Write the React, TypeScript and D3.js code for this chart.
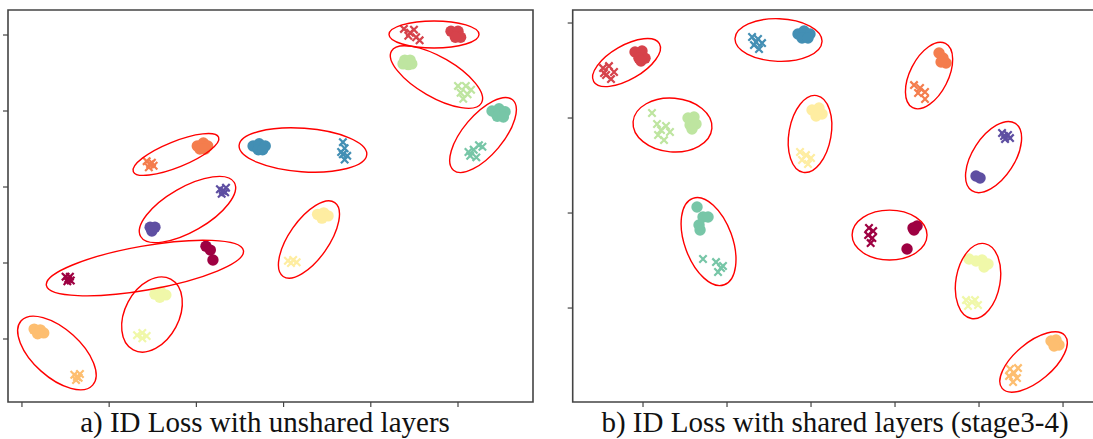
import React from 'react';
import * as d3 from 'd3';

type Pt = [number, number];
type Ell = { c: Pt; tip: Pt; ratio: number };

// identities 0..9 coloured with the Spectral map
const colorOf = (i: number) => d3.interpolateSpectral(i / 9);

// ---- panel a) unshared layers ----
const leftXTicks = [0, 10, 20, 30, 40, 50];
const leftYTicks = [0, 10, 20, 30, 40];

const leftCircles: Pt[][] = [
  [[21.1, 12.2], [21.6, 11.7], [21.9, 10.4]],
  [[49.2, 40.5], [50.0, 40.5], [50.3, 39.7], [49.7, 39.7]],
  [[20.1, 25.4], [20.8, 25.8], [21.3, 25.4], [20.4, 25.0], [21.0, 25.0]],
  [[1.4, 1.3], [2.1, 1.2], [2.5, 0.8], [1.8, 0.7]],
  [[33.9, 16.4], [34.6, 16.6], [35.1, 16.2], [34.4, 15.9]],
  [[15.25, 5.9], [15.9, 6.2], [16.5, 5.8], [15.8, 5.5]],
  [[43.9, 36.7], [44.5, 36.7], [44.3, 36.1], [43.7, 36.2], [44.7, 36.2]],
  [[53.9, 30.0], [54.7, 30.3], [55.4, 29.9], [54.5, 29.3], [55.2, 29.2]],
  [[26.5, 25.4], [27.2, 25.7], [27.9, 25.4], [27.1, 24.9], [27.6, 24.9]],
  [[14.7, 14.7], [15.25, 14.7], [14.9, 14.2]],
];

const leftCrosses: Pt[][] = [
  [[5.0, 8.2], [5.6, 7.7], [5.2, 7.6], [5.5, 8.2], [5.3, 7.9]],
  [[43.8, 40.8], [44.5, 40.3], [45.2, 39.7], [44.3, 39.9], [45.6, 39.3], [44.95, 40.7]],
  [[14.3, 23.4], [14.9, 23.2], [14.55, 22.6], [15.1, 22.8], [14.7, 23.0]],
  [[6.0, -4.7], [6.5, -5.1], [6.2, -5.4], [6.65, -4.6], [6.3, -5.0]],
  [[30.5, 10.3], [31.1, 10.4], [31.5, 10.1], [30.85, 10.0]],
  [[13.2, 0.5], [13.8, 0.8], [14.3, 0.4], [13.8, 0.1]],
  [[50.0, 33.3], [50.9, 33.3], [50.3, 32.4], [51.1, 32.2], [50.6, 31.6], [51.5, 32.8]],
  [[51.4, 24.1], [51.8, 24.9], [52.4, 25.5], [51.2, 24.6], [52.1, 23.9], [52.8, 25.3]],
  [[36.8, 25.9], [37.0, 25.1], [36.8, 24.3], [37.0, 23.6], [36.6, 24.6], [37.3, 24.1]],
  [[22.7, 19.7], [23.3, 19.3], [22.9, 19.1], [23.4, 19.9], [23.05, 19.5]],
];

const leftEllipses: Ell[] = [
  { c: [14.1, 9.34], tip: [25.4, 11.63], ratio: 0.22 },
  { c: [47.25, 40.07], tip: [52.41, 40.07], ratio: 0.3 },
  { c: [17.66, 24.28], tip: [22.55, 26.54], ratio: 0.28 },
  { c: [4.01, -1.84], tip: [8.11, -6.07], ratio: 0.5 },
  { c: [32.91, 13.09], tip: [35.87, 17.95], ratio: 0.44 },
  { c: [14.91, 3.22], tip: [17.06, 7.87], ratio: 0.675 },
  { c: [47.53, 34.47], tip: [52.69, 31.05], ratio: 0.385 },
  { c: [52.87, 26.84], tip: [56.26, 31.47], ratio: 0.435 },
  { c: [32.22, 24.87], tip: [39.54, 24.28], ratio: 0.34 },
  { c: [18.98, 17.04], tip: [24.35, 20.59], ratio: 0.41 },
];

// ---- panel b) shared layers ----
const rightXTicks = [0, 10, 20, 30, 40, 50];
const rightYTicks = [0, 10, 20, 30];

const rightCircles: Pt[][] = [
  [[32.14, 8.42], [32.62, 8.63], [32.26, 8.21], [31.43, 6.21]],
  [[-0.95, 26.95], [-0.12, 27.05], [0.24, 26.3], [-0.48, 26.3], [-0.24, 26.0]],
  [[35.24, 26.84], [35.71, 26.32], [36.07, 25.79], [35.48, 25.89]],
  [[48.57, -3.47], [49.17, -3.37], [49.52, -3.89], [48.93, -4.0]],
  [[20.12, 20.84], [20.95, 21.05], [21.31, 20.42], [20.6, 20.21]],
  [[38.81, 5.16], [39.64, 4.95], [40.36, 5.05], [41.07, 4.63], [40.6, 4.32]],
  [[5.36, 20.0], [6.07, 20.1], [5.6, 19.26], [6.31, 19.37], [5.83, 18.84]],
  [[6.43, 10.63], [7.14, 9.58], [7.74, 9.58], [6.79, 8.21], [6.67, 8.74]],
  [[18.45, 28.84], [19.17, 29.16], [19.88, 28.84], [18.93, 28.42], [19.64, 28.42]],
  [[39.64, 13.89], [40.12, 13.68]],
];

const rightCrosses: Pt[][] = [
  [[26.9, 8.42], [27.4, 8.1], [26.8, 7.68], [27.3, 7.37], [27.1, 6.84]],
  [[-4.76, 25.26], [-4.05, 25.47], [-3.45, 24.84], [-4.4, 24.53], [-3.81, 24.1], [-4.64, 24.74]],
  [[32.26, 23.47], [32.98, 23.16], [33.57, 22.74], [32.74, 22.63], [33.57, 22.0]],
  [[43.69, -6.42], [44.17, -6.84], [44.52, -7.37], [43.57, -7.16], [44.05, -7.79], [44.64, -6.32]],
  [[18.69, 16.42], [19.4, 16.1], [20.0, 15.79], [18.93, 15.58], [19.64, 15.16]],
  [[38.45, 0.84], [39.17, 0.63], [39.88, 0.32], [38.69, 0.21], [39.52, 0.84]],
  [[1.07, 20.53], [1.67, 19.37], [2.14, 18.74], [2.74, 19.16], [3.21, 18.53], [2.5, 17.68], [1.79, 18.21]],
  [[7.14, 5.16], [8.69, 4.84], [9.29, 4.21], [8.93, 3.79], [9.52, 4.42]],
  [[12.98, 28.53], [13.69, 28.32], [14.17, 27.89], [13.21, 27.68], [13.81, 27.26], [13.45, 28.0]],
  [[42.74, 18.42], [43.45, 18.21], [43.1, 17.79], [43.69, 17.89], [42.98, 18.1]],
];

const rightEllipses: Ell[] = [
  { c: [29.35, 7.68], tip: [33.81, 7.68], ratio: 0.667 },
  { c: [-1.96, 25.84], tip: [1.95, 27.84], ratio: 0.447 },
  { c: [34.05, 24.47], tip: [36.0, 27.85], ratio: 0.53 },
  { c: [46.49, -5.68], tip: [50.23, -2.9], ratio: 0.463 },
  { c: [19.88, 18.32], tip: [20.69, 22.36], ratio: 0.54 },
  { c: [39.88, 2.84], tip: [40.67, 6.78], ratio: 0.58 },
  { c: [3.51, 19.26], tip: [8.2, 18.91], ratio: 0.68 },
  { c: [7.8, 7.0], tip: [9.67, 2.45], ratio: 0.52 },
  { c: [16.13, 28.21], tip: [21.31, 28.05], ratio: 0.49 },
  { c: [41.73, 15.89], tip: [44.32, 19.43], ratio: 0.525 },
];

const titles = ['a) ID Loss with unshared layers', 'b) ID Loss with shared layers (stage3-4)'];

type PanelProps = {
  left: number; right: number; top: number; bottom: number;
  xDomain: [number, number]; yDomain: [number, number];
  xTicks: number[]; yTicks: number[];
  circles: Pt[][]; crosses: Pt[][]; ellipses: Ell[];
  title: string; titleX: number; clipId: string;
};

function Panel(p: PanelProps) {
  const x = d3.scaleLinear().domain(p.xDomain).range([p.left, p.right]);
  const y = d3.scaleLinear().domain(p.yDomain).range([p.bottom, p.top]);
  const spine = '#444';
  const xs = 3.7; // cross half size
  return (
    <g>
      <clipPath id={p.clipId}>
        <rect x={p.left} y={p.top} width={p.right - p.left} height={p.bottom - p.top} />
      </clipPath>
      <g clipPath={`url(#${p.clipId})`}>
        {p.crosses.map((pts, i) => (
          <g key={'x' + i} stroke={colorOf(i)} strokeWidth={2.2}>
            {pts.map((d, j) => {
              const cx = x(d[0]), cy = y(d[1]);
              return (
                <path key={j} d={`M${cx - xs},${cy - xs}L${cx + xs},${cy + xs}M${cx - xs},${cy + xs}L${cx + xs},${cy - xs}`} />
              );
            })}
          </g>
        ))}
        {p.circles.map((pts, i) => (
          <g key={'c' + i} fill={colorOf(i)}>
            {pts.map((d, j) => (
              <circle key={j} cx={x(d[0])} cy={y(d[1])} r={5.7} />
            ))}
          </g>
        ))}
        {p.ellipses.map((e, i) => {
          const cx = x(e.c[0]), cy = y(e.c[1]);
          const tx = x(e.tip[0]), ty = y(e.tip[1]);
          const rx = Math.hypot(tx - cx, ty - cy);
          const ang = (Math.atan2(ty - cy, tx - cx) * 180) / Math.PI;
          return (
            <ellipse key={'e' + i} cx={cx} cy={cy} rx={rx} ry={rx * e.ratio}
              transform={`rotate(${ang} ${cx} ${cy})`}
              fill="none" stroke="#ff0000" strokeWidth={1.4} />
          );
        })}
      </g>
      {/* spines */}
      <path d={`M${p.left},${p.bottom}V${p.top}H${p.right}V${p.bottom}Z`} fill="none" stroke={spine} strokeWidth={1.6} />
      {p.xTicks.map((t) => (
        <line key={'xt' + t} x1={x(t)} x2={x(t)} y1={p.bottom} y2={p.bottom + 5} stroke={spine} strokeWidth={1.2} />
      ))}
      {p.yTicks.map((t) => (
        <line key={'yt' + t} x1={p.left - 5} x2={p.left} y1={y(t)} y2={y(t)} stroke={spine} strokeWidth={1.2} />
      ))}
      <text x={p.titleX} y={432} textAnchor="middle"
        fontFamily="'Liberation Serif', 'Times New Roman', serif" fontSize={29} fill="#111">
        {p.title}
      </text>
    </g>
  );
}

export default function App() {
  return (
    <svg width={1093} height={439} style={{ position: 'absolute', left: 0, top: 0, background: '#fff' }}>
      <Panel left={8} right={533} top={10} bottom={402}
        xDomain={[-1.6, 58.6]} yDomain={[-8.29, 43.29]}
        xTicks={leftXTicks} yTicks={leftYTicks}
        circles={leftCircles} crosses={leftCrosses} ellipses={leftEllipses}
        title={titles[0]} titleX={265} clipId="clipA" />
      <Panel left={572.7} right={1100} top={10} bottom={402}
        xDomain={[-8.37, 54.4]} yDomain={[-9.89, 31.37]}
        xTicks={rightXTicks} yTicks={rightYTicks}
        circles={rightCircles} crosses={rightCrosses} ellipses={rightEllipses}
        title={titles[1]} titleX={835} clipId="clipB" />
    </svg>
  );
}
